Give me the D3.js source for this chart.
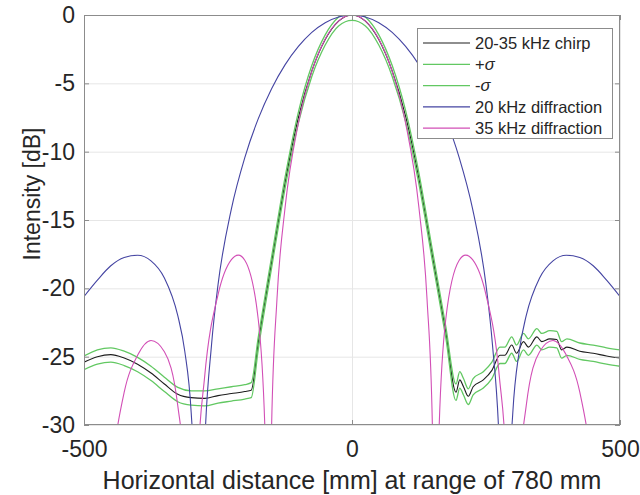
<!DOCTYPE html>
<html><head><meta charset="utf-8">
<script src="https://cdn.jsdelivr.net/npm/d3@7"></script>
<style>body{margin:0;background:#fff}text{font-family:"Liberation Sans",Arial,sans-serif}</style>
</head><body><svg id="c" width="640" height="495"></svg>
<script>
// ---- data ----
const chirpX = [-500,-475,-450,-425,-400,-375,-350,-325,-300,-275,-250,-225,-200,-188,-175,-150,-125,-100,-75,-50,-25,0,25,50,75,100,125,150,175,194,201,208,217,226,245,261,276,285,298,307,320,329,345,354,369,382,391,401,425,450,475,500];
const chirp = [-25.4,-25.0,-24.85,-25.1,-25.55,-26.2,-27.0,-27.75,-28.0,-28.05,-27.85,-27.7,-27.55,-27.45,-24.0,-18.1,-12.3,-7.5,-4.1,-1.8,-0.45,0,-0.45,-1.8,-4.1,-7.4,-12.0,-17.6,-23.2,-27.6,-26.7,-27.2,-27.9,-27.2,-26.7,-26.0,-24.9,-24.9,-24.15,-24.75,-23.9,-24.3,-23.55,-23.9,-23.7,-23.75,-24.5,-24.3,-24.6,-24.75,-24.95,-25.1];
const plusSigma = [-24.95,-24.5,-24.35,-24.6,-25.05,-25.7,-26.5,-27.25,-27.5,-27.5,-27.35,-27.2,-27.05,-26.9,-23.6,-17.7,-11.9,-7.1,-3.7,-1.45,-0.15,0.3,-0.15,-1.45,-3.7,-7.0,-11.6,-17.2,-22.8,-27.0,-26.1,-26.6,-27.35,-26.6,-26.1,-25.4,-24.3,-24.3,-23.55,-24.15,-23.3,-23.7,-22.95,-23.3,-23.1,-23.15,-23.9,-23.7,-24.0,-24.15,-24.35,-24.5];
const minusSigma = [-25.95,-25.55,-25.4,-25.65,-26.1,-26.75,-27.55,-28.3,-28.55,-28.6,-28.4,-28.25,-28.1,-28.0,-24.5,-18.5,-12.7,-7.9,-4.5,-2.2,-0.8,-0.4,-0.8,-2.2,-4.5,-7.8,-12.4,-18.0,-23.6,-28.2,-27.3,-27.8,-28.5,-27.8,-27.3,-26.6,-25.5,-25.5,-24.75,-25.35,-24.5,-24.9,-24.15,-24.5,-24.3,-24.35,-25.1,-24.9,-25.2,-25.35,-25.55,-25.7];
const diff20X = [-500,-475,-450,-425,-400,-375,-350,-325,-312,-300,-292,-285,-280,-275,-262,-250,-225,-200,-175,-150,-125,-100,-75,-50,-25,0,25,50,75,100,125,150,175,200,225,250,262,275,280,285,292,300,312,325,350,375,400,425,450,475,500];
const diff20 = [-20.6,-19.4,-18.35,-17.75,-17.58,-17.99,-19.24,-22.0,-24.6,-29.1,-36,-60,-38,-31.7,-24.1,-19.75,-14.18,-10.43,-7.6,-5.39,-3.65,-2.3,-1.27,-0.56,-0.14,0,-0.14,-0.56,-1.27,-2.3,-3.65,-5.39,-7.6,-10.43,-14.18,-19.75,-24.1,-31.7,-38,-60,-36,-29.1,-24.6,-22.0,-19.24,-17.99,-17.58,-17.75,-18.35,-19.4,-20.6];
const diff35X = [-500,-475,-462,-450,-425,-400,-375,-350,-325,-312,-300,-288,-275,-250,-225,-212,-200,-175,-162,-156,-150,-140,-125,-100,-75,-50,-25,0,25,50,75,100,125,140,150,156,162,175,200,212,225,250,275,288,300,312,325,350,375,400,425,450,462,475,500];
const diff35 = [-35.4,-60,-40,-34.1,-27.6,-24.9,-23.82,-24.64,-28.6,-34.1,-60,-33.3,-26.5,-20.47,-17.9,-17.57,-17.94,-22.24,-30.9,-60,-30.1,-20.8,-14.14,-7.91,-4.13,-1.76,-0.43,0,-0.43,-1.76,-4.13,-7.91,-14.14,-20.8,-30.1,-60,-30.9,-22.24,-17.94,-17.57,-17.9,-20.47,-26.5,-33.3,-60,-34.1,-28.6,-24.64,-23.82,-24.9,-27.6,-34.1,-40,-60,-35.4];
const xTicks = [-500,0,500];
const yTicks = [0,-5,-10,-15,-20,-25,-30];
const legendLabels = ["20-35 kHz chirp","+σ","-σ","20 kHz diffraction","35 kHz diffraction"];

// ---- layout ----
const svg = d3.select("#c");
const L=84, T=15, R=620, B=425;
const x = d3.scaleLinear().domain([-500,500]).range([L,R]);
const y = d3.scaleLinear().domain([-30,0]).range([B,T]);
const gridC="#e6e6e6", axC="#8c8c8c", txtC="#262626";

// grid
svg.append("g").attr("transform",`translate(0,${B})`)
  .call(d3.axisBottom(x).tickValues(xTicks).tickSize(-(B-T)).tickFormat(""))
  .call(g=>{g.select(".domain").remove();g.selectAll("line").attr("stroke",gridC);});
svg.append("g").attr("transform",`translate(${L},0)`)
  .call(d3.axisLeft(y).tickValues(yTicks).tickSize(-(R-L)).tickFormat(""))
  .call(g=>{g.select(".domain").remove();g.selectAll("line").attr("stroke",gridC);});

// clip
svg.append("clipPath").attr("id","pc").append("rect").attr("x",L).attr("y",T).attr("width",R-L).attr("height",B-T);
const plot = svg.append("g").attr("clip-path","url(#pc)");
const line = d3.line().curve(d3.curveMonotoneX);
function draw(xs, ys, color, w){
  plot.append("path").attr("d", line(xs.map((v,i)=>[x(v), y(ys[i])])))
    .attr("fill","none").attr("stroke",color).attr("stroke-width",w).attr("stroke-linejoin","round");
}
const colors = ["#1e1e1e","#62c862","#62c862","#4444a2","#d24fb6"];
draw(chirpX, chirp, colors[0], 1.1);
draw(chirpX, plusSigma, colors[1], 1.3);
draw(chirpX, minusSigma, colors[2], 1.3);
draw(diff20X, diff20, colors[3], 1.1);
draw(diff35X, diff35, colors[4], 1.1);

// axes
function styleAx(g){g.select(".domain").remove();g.selectAll("line").attr("stroke",axC);
  g.selectAll("text").attr("fill",txtC).style("font-size","23px");}
svg.append("g").attr("transform",`translate(0,${B})`)
  .call(d3.axisBottom(x).tickValues(xTicks).tickSizeInner(-5).tickSizeOuter(0).tickPadding(16).tickFormat(d=>String(d)))
  .call(styleAx);
svg.append("g").attr("transform",`translate(${L},0)`)
  .call(d3.axisLeft(y).tickValues(yTicks).tickSizeInner(-5).tickSizeOuter(0).tickPadding(9).tickFormat(d=>String(d)))
  .call(styleAx);
svg.append("g").attr("transform",`translate(0,${T})`)
  .call(d3.axisTop(x).tickValues(xTicks).tickSizeInner(-5).tickSizeOuter(0).tickFormat(""))
  .call(styleAx);
svg.append("g").attr("transform",`translate(${R},0)`)
  .call(d3.axisRight(y).tickValues(yTicks).tickSizeInner(-5).tickSizeOuter(0).tickFormat(""))
  .call(styleAx);
svg.append("rect").attr("x",L+0.5).attr("y",T+0.5).attr("width",R-L-1).attr("height",B-T-1)
  .attr("fill","none").attr("stroke",axC);

// axis labels
svg.append("text").attr("x",(L+R)/2).attr("y",489).attr("text-anchor","middle")
  .style("font-size","25px").attr("fill",txtC).text("Horizontal distance [mm] at range of 780 mm");
svg.append("text").attr("transform",`translate(40,194) rotate(-90)`).attr("text-anchor","middle")
  .style("font-size","23px").attr("fill",txtC).text("Intensity [dB]");

// legend
const lg = svg.append("g");
lg.append("rect").attr("x",417.5).attr("y",28.5).attr("width",195).attr("height",110)
  .attr("fill","#fff").attr("stroke","#8c8c8c");
legendLabels.forEach((lab,i)=>{
  const yy = 43 + i*21.3;
  lg.append("line").attr("x1",423).attr("x2",470).attr("y1",yy).attr("y2",yy)
    .attr("stroke",colors[i]).attr("stroke-width",1.2);
  const t = lg.append("text").attr("x",475).attr("y",yy).attr("dy","0.35em")
    .style("font-size","16.5px").attr("fill",txtC);
  if(lab.includes("σ")){
    t.append("tspan").text(lab.replace("σ",""));
    t.append("tspan").style("font-style","italic").text("σ");
  } else t.text(lab);
});
</script></body></html>
